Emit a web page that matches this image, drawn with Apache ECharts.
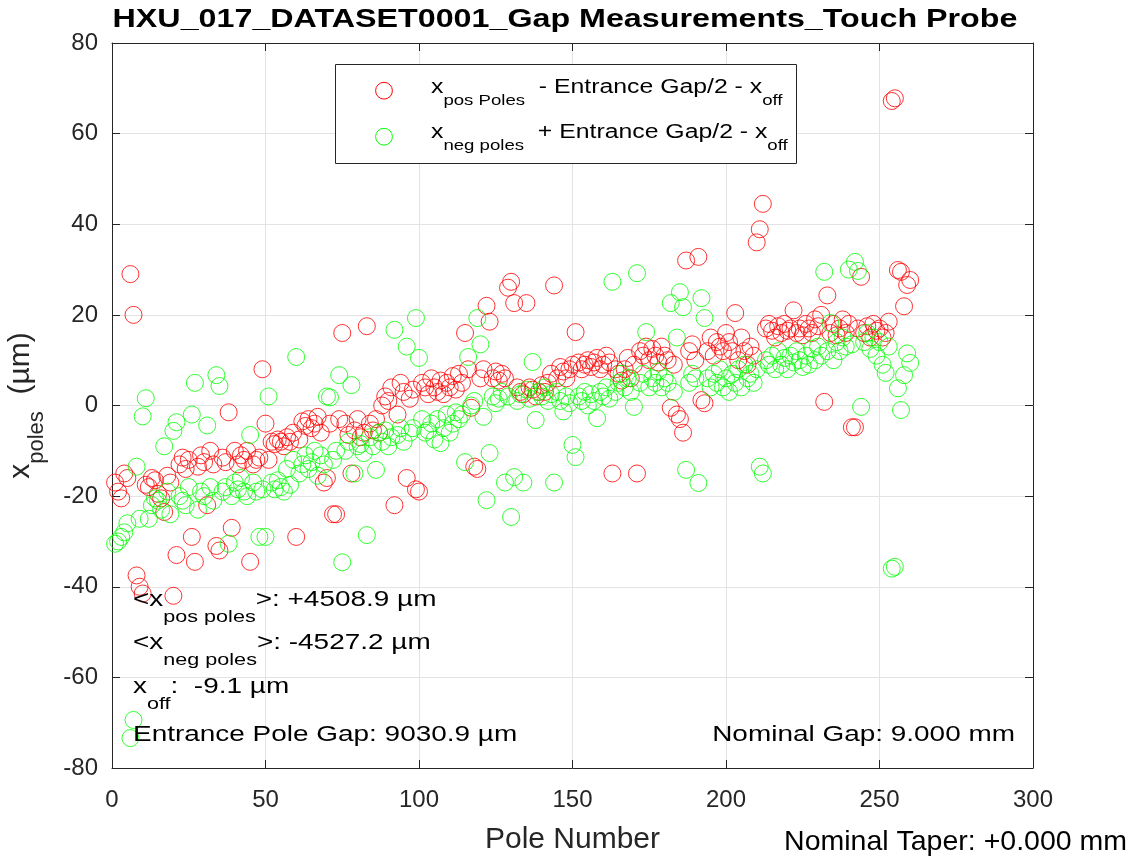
<!DOCTYPE html>
<html>
<head>
<meta charset="utf-8">
<script src="https://cdn.jsdelivr.net/npm/echarts@6/dist/echarts.min.js"></script>
<style>html,body{margin:0;padding:0;background:#fff;}#c{width:1139px;height:859px;}</style>
</head>
<body>
<div id="c"></div>
<script>
const TITLE = 'HXU_017_DATASET0001_Gap Measurements_Touch Probe';
const X_TICKS = [0, 50, 100, 150, 200, 250, 300];
const Y_TICKS = [-80, -60, -40, -20, 0, 20, 40, 60, 80];

// x_pos poles - Entrance Gap/2 - x_off  (µm), poles 1..260
const posPoles = [
 -17, -19, -20.5, -15, -16, 29, 20, -37.5, -40, -41.5,
 -17.5, -18, -16, -16.5, -19.5, -20.5, -23.5, -15.5, -17, -42,
 -33, -13, -11.5, -14, -12, -29, -34.5, -13.5, -11, -12.5,
 -22, -10, -13, -31, -32, -11.5, -12.5, -1.5, -27, -10,
 -13, -11, -12, -10, -34.5, -13, -12, -11.5, 8, -4,
 -12, -8, -8.5, -7.5, -8, -9, -7, -8, -6, -29,
 -7.5, -3.5, -4.5, -3, -5, -4, -2.5, -6, -17, -16,
 -4, -24, -24, -3, 16, -4, -6.5, -15, -5.5, -3,
 -7, -6, 17.5, -4, -5.5, -3, -6, 0, 2, 1,
 4, -22, -2, 5, 3, -16, 1.5, 3.5, -18.5, -19,
 5, 4, 2.5, 6, 4, 3, 5.5, 2.5, 5, 4,
 6.5, 3.5, 7, 5, 16, 8, -0.5, -13.5, -14, 6,
 8, 22, 18.5, 6, 7.5, 5.5, 7, 6, 26, 27.3,
 22.6, 4, 3, 2.5, 22.6, 4, 3.5, 2, 3, 4.5,
 3, 5, 7, 26.5, 6, 8.5, 7.5, 6, 8, 9,
 16.2, 9.5, 8, 9, 10, 8.5, 9.5, 10.5, 8, 9,
 11, 9.5, -15, 8, 7, 5.5, 8, 10.5, 6, 9,
 -15, 12, 11, 13, 10, 12.5, 11, 9.5, 13, 11,
 10, -0.5, 9, -2, -3, -6, 32, 12, 13.5, 10,
 32.8, 1.2, 0.5, 12, 15, 11, 14, 13, 12, 16,
 14, 12, 20.4, 10, 15, 12, 9, 13, 11, 36,
 38.9, 44.5, 17, 18, 16.5, 15, 17.5, 16, 18, 16.5,
 17, 21, 16, 17, 15.5, 18, 17, 16, 19, 17.5,
 20, 0.8, 24.3, 16, 18, 15.5, 17, 19, 16, 18,
 -4.8, -4.8, 17, 28.4, 16, 17.5, 15, 18, 16.5, 17,
 15, 16, 18.5, 67.2, 67.8, 29.9, 29.5, 21.9, 26.6, 27.7
];

// x_neg poles + Entrance Gap/2 - x_off  (µm), poles 1..260
const negPoles = [
 -30.5, -30, -29, -28, -26, -73.4, -69.4, -13.5, -25, -2.4,
 1.6, -25, -22, -20.5, -21, -23, -9, -19, -24, -5.6,
 -3.7, -20, -21, -22, -18, -2, 5, -23, -19, -20,
 -4.4, -18, -21, 6.7, 4.3, -19, -18, -30.5, -20, -17,
 -18.5, -16, -19, -20, -6.5, -17, -19, -29, -18.5, -29,
 2, -17, -18.5, -16.5, -18, -19, -14, -17.5, -12, 10.7,
 -15, -13, -11, -14, -12.5, -10, -15.5, -11, -13, 2,
 1.8, -12, -10, 6.7, -34.6, -10, -8, 4.5, -15, -9,
 -8.5, -10.5, -28.6, -7, -9, -14.2, -6, -8, -5.5, -9,
 -7, 16.7, -6.5, -5, -8, 13, -6, -5, 19.3, 10.5,
 -3, -6, -5.5, -4, -7.5, -3, -8.3, -5, -2, -6,
 -4, -1.5, -3, -2, -12.5, 10.7, 0, 1, 19.3, 13.5,
 -2.5, -20.9, -10.5, 2, 0.5, 1.5, 3, -17, 2, -24.6,
 -15.8, 1, 2.5, -17, 3.5, 1.5, 9.6, -3.2, 3, 2,
 4, 1, 2.5, -17, 3, 1, -1.3, 2, 0.5, -8.7,
 -11.4, 2, 1, 3, 0, 2.5, 1, -2.8, 3, 2,
 4, 1.5, 27.3, 3, 5, 7, 4, 6, 3, -0.3,
 29.2, 5, 7, 16.2, 4, 6, 5, 7.5, 4, 6,
 5, 22.6, 3, 15, 25, 21.7, -14.2, 5, 7, 6,
 -17.1, 23.7, 19.3, 6, 4, 7, 5, 8, 4, 6,
 3, 7, 5, 8, 4, 9, 6, 7, 5, 8,
 -13.5, -15, 10, 9, 11, 8, 12, 9, 10.5, 8,
 11, 9.5, 12, 10, 8.5, 11, 9, 12.5, 10, 13,
 11, 29.5, 12, 18.2, 10, 14, 12, 15, 13, 30,
 13.5, 31.7, 29.7, -0.3, 14, 16, 12.5, 15, 11, 14,
 9, 7.2, 13, -36, -35.6, 3.8, -1, 6.7, 11.5, 9.4
];

const poles = posPoles.map((_, i) => i + 1);

const FONT = '"Liberation Sans", Arial, Helvetica, sans-serif';
const TXT = '#262626';
const RED = '#ff0000', GREEN = '#00ff00';

const chart = echarts.init(document.getElementById('c'), null, {renderer: 'canvas'});

const legRich = {
  m: {fontSize: 20, fontFamily: FONT, fill: '#000', lineHeight: 24, verticalAlign: 'top'},
  s: {fontSize: 15, fontFamily: FONT, fill: '#000', lineHeight: 16, padding: [16, 0, 0, 0], verticalAlign: 'top'}
};
const annRich = {
  m: {fontSize: 22, fontFamily: FONT, fill: '#000', lineHeight: 26, verticalAlign: 'top'},
  s: {fontSize: 17, fontFamily: FONT, fill: '#000', lineHeight: 18, padding: [20, 0, 0, 0], verticalAlign: 'top'}
};

function richText(x, y, text, rich, align, sx) {
  return {
    type: 'text', z: 5, x: x, y: y, scaleX: sx, scaleY: 1,
    style: {text: text, rich: rich, align: align || 'left', verticalAlign: 'top',
            font: '22px ' + FONT, fill: '#000'}
  };
}

const option = {
  animation: false,
  backgroundColor: '#fff',
  grid: {left: 112, right: 106, top: 43, bottom: 91, containLabel: false, outerBoundsMode: 'none'},
  xAxis: [{
    type: 'value', min: 0, max: 300, interval: 50,
    name: 'Pole Number', nameLocation: 'middle', nameGap: 57,
    nameTextStyle: {fontFamily: FONT, fontSize: 30, color: TXT},
    axisLine: {show: true, onZero: false, lineStyle: {color: TXT, width: 1}},
    axisTick: {show: true, inside: true, length: 8, lineStyle: {color: TXT}},
    axisLabel: {fontFamily: FONT, fontSize: 24, color: TXT, margin: 20},
    splitLine: {show: true, lineStyle: {color: '#e3e3e3', width: 1}}
  }, {
    type: 'value', min: 0, max: 300, interval: 50, position: 'top',
    axisLine: {show: true, onZero: false, lineStyle: {color: TXT, width: 1}},
    axisTick: {show: true, inside: true, length: 8, lineStyle: {color: TXT}},
    axisLabel: {show: false}, splitLine: {show: false}
  }],
  yAxis: [{
    type: 'value', min: -80, max: 80, interval: 20,
    name: '{m|x}{s|poles}{m|  (µm)}', nameLocation: 'middle', nameGap: 72, nameRotate: 90,
    nameTextStyle: {
      rich: {
        m: {fontFamily: FONT, fontSize: 30, color: TXT, lineHeight: 34, verticalAlign: 'top'},
        s: {fontFamily: FONT, fontSize: 22, color: TXT, lineHeight: 24, padding: [20, 0, 0, 0], verticalAlign: 'top'}
      }
    },
    axisLine: {show: true, onZero: false, lineStyle: {color: TXT, width: 1}},
    axisTick: {show: true, inside: true, length: 8, lineStyle: {color: TXT}},
    axisLabel: {fontFamily: FONT, fontSize: 24, color: TXT, margin: 14},
    splitLine: {show: true, lineStyle: {color: '#e3e3e3', width: 1}}
  }, {
    type: 'value', min: -80, max: 80, interval: 20, position: 'right',
    axisLine: {show: true, onZero: false, lineStyle: {color: TXT, width: 1}},
    axisTick: {show: true, inside: true, length: 8, lineStyle: {color: TXT}},
    axisLabel: {show: false}, splitLine: {show: false}
  }],
  graphic: [
    {type: 'text', z: 5, x: 565, y: 20, scaleX: 1.24,
     style: {text: TITLE, font: 'bold 26px ' + FONT, fill: '#000', align: 'center', verticalAlign: 'middle'}},
    // legend box
    {type: 'rect', z: 5, shape: {x: 335.5, y: 64.5, width: 461, height: 99},
     style: {fill: '#fff', stroke: TXT, lineWidth: 1}},
    {type: 'circle', z: 6, shape: {cx: 384, cy: 90.7, r: 8.4}, style: {fill: 'none', stroke: RED, lineWidth: 1}},
    {type: 'circle', z: 6, shape: {cx: 384, cy: 136.7, r: 8.4}, style: {fill: 'none', stroke: GREEN, lineWidth: 1}},
    richText(431, 77.7, '{m|x}{s|pos Poles}{m|  - Entrance Gap/2 - x}{s|off}', legRich, 'left', 1.24),
    richText(431, 122.7, '{m|x}{s|neg poles}{m|  + Entrance Gap/2 - x}{s|off}', legRich, 'left', 1.24),
    // annotations
    richText(133, 589, '{m|<x}{s|pos poles}{m|>: +4508.9 µm}', annRich, 'left', 1.27),
    richText(133, 632, '{m|<x}{s|neg poles}{m|>: -4527.2 µm}', annRich, 'left', 1.27),
    richText(133, 676, '{m|x}{s|off}{m|:  -9.1 µm}', annRich, 'left', 1.27),
    richText(133, 724, '{m|Entrance Pole Gap: 9030.9 µm}', annRich, 'left', 1.27),
    richText(1015, 724, '{m|Nominal Gap: 9.000 mm}', annRich, 'right', 1.27),
    {type: 'text', z: 5, x: 1127, y: 842,
     style: {text: 'Nominal Taper: +0.000 mm', font: '28.5px ' + FONT, fill: '#000', align: 'right', verticalAlign: 'middle'}}
  ],
  series: [{
    name: 'x_pos Poles - Entrance Gap/2 - x_off', type: 'scatter', symbol: 'circle', symbolSize: 17,
    itemStyle: {color: 'rgba(0,0,0,0)', borderColor: RED, borderWidth: 1},
    data: poles.map((p, i) => [p, posPoles[i]])
  }, {
    name: 'x_neg poles + Entrance Gap/2 - x_off', type: 'scatter', symbol: 'circle', symbolSize: 17,
    itemStyle: {color: 'rgba(0,0,0,0)', borderColor: GREEN, borderWidth: 1},
    data: poles.map((p, i) => [p, negPoles[i]])
  }]
};
chart.setOption(option);
</script>
</body>
</html>
